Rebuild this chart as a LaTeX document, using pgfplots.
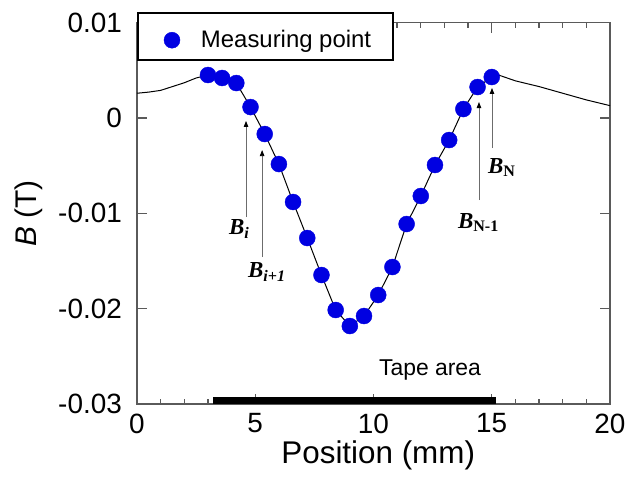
\documentclass[border=0pt]{standalone}
\usepackage{fontspec}
\setmainfont{Liberation Sans}
\newfontfamily\tnr{Liberation Serif}
\usepackage{pgfplots}
\pgfplotsset{compat=1.18}
\usetikzlibrary{arrows.meta}
\definecolor{mblue}{RGB}{0,0,225}
\definecolor{axgray}{RGB}{90,90,90}
\begin{document}
\begin{tikzpicture}
\begin{axis}[
 scale only axis, width=473bp, height=381.3bp,
 xmin=0, xmax=20, ymin=-0.03, ymax=0.01,
 scaled y ticks=false, scaled x ticks=false,
 axis line style={axgray, line width=1.3bp},
 xtick={0,5,10,15,20}, xticklabels={0,5,10,15,20},
 minor xtick={1,2,3,4,6,7,8,9,11,12,13,14,16,17,18,19},
 ytick={-0.03,-0.02,-0.01,0,0.01}, yticklabels={-0.03,-0.02,-0.01,0,0.01},
 major tick length=10bp, minor tick length=5bp,
 every tick/.style={axgray, line width=1.3bp},
 tick align=inside,
 xticklabel style={anchor=center, yshift=-19.5bp, inner sep=0pt, font=\fontsize{28}{30}\selectfont},
 yticklabel style={anchor=east, xshift=-15bp, inner sep=0pt, font=\fontsize{28}{30}\selectfont},
 xlabel={Position (mm)}, ylabel={\textit{B} (T)},
 xlabel style={at={(rel axis cs:0.51,-0.1338)}, anchor=center, font=\fontsize{31.5}{33}\selectfont},
 ylabel style={at={(rel axis cs:-0.2283,0.5)}, anchor=center, font=\fontsize{30}{32}\selectfont},
 legend image code/.code={\draw[#1] plot coordinates {(11bp,-0.5bp)}; \path (0bp,-0.5bp) (39bp,15.5bp);},
 legend style={at={(0,1)}, anchor=north west, yshift=11bp, draw=black, line width=2bp,
   inner xsep=22bp, inner ysep=10.5bp, fill=white,
   nodes={inner sep=0pt, font=\fontsize{24}{26}\selectfont}},
 legend cell align=left,
 clip=false,
]
\addplot[black, line width=1bp, forget plot] coordinates {
 (0,0.0026) (0.5,0.00272) (1,0.0029) (1.5,0.0033) (2,0.0037) (2.5,0.0042)
 (3.0,0.00451) (3.6,0.00420) (4.2,0.00367) (4.8,0.00115) (5.4,-0.00168)
 (6.0,-0.00483) (6.6,-0.00881) (7.2,-0.01259) (7.8,-0.01647) (8.4,-0.02014)
 (9.0,-0.02182) (9.6,-0.02077) (10.2,-0.01857) (10.8,-0.01563) (11.4,-0.01112)
 (12.0,-0.00818) (12.6,-0.00493) (13.2,-0.00231) (13.8,0.00094) (14.4,0.00325)
 (15.0,0.00430) (15.3,0.0045) (16,0.0039) (17,0.0033) (18,0.0026) (19,0.0019) (20,0.0013)
};
\addplot[fill=black, draw=none, forget plot] coordinates {
 (3.21,-0.03) (15.18,-0.03) (15.18,-0.02927) (3.21,-0.02927)} -- cycle;
\addplot[only marks, mark=*, mark size=8bp, color=mblue, mark options={draw=mblue, fill=mblue, line width=0.4bp}] coordinates {
 (3.0,0.00451) (3.6,0.00420) (4.2,0.00367) (4.8,0.00115) (5.4,-0.00168)
 (6.0,-0.00483) (6.6,-0.00881) (7.2,-0.01259) (7.8,-0.01647) (8.4,-0.02014)
 (9.0,-0.02182) (9.6,-0.02077) (10.2,-0.01857) (10.8,-0.01563) (11.4,-0.01112)
 (12.0,-0.00818) (12.6,-0.00493) (13.2,-0.00231) (13.8,0.00094) (14.4,0.00325)
 (15.0,0.00430)
};
\addlegendentry{Measuring point}
\draw[gray!85!black, line width=0.8bp, -{Triangle[length=6bp,width=4.5bp,black]}] (axis cs:4.61,-0.01039) -- (axis cs:4.61,-0.00031);
\draw[gray!85!black, line width=0.8bp, -{Triangle[length=6bp,width=4.5bp,black]}] (axis cs:5.29,-0.01458) -- (axis cs:5.29,-0.00336);
\draw[gray!85!black, line width=0.8bp, -{Triangle[length=6bp,width=4.5bp,black]}] (axis cs:14.46,-0.0086) -- (axis cs:14.46,0.00168);
\draw[gray!85!black, line width=0.8bp, -{Triangle[length=6bp,width=4.5bp,black]}] (axis cs:15.01,-0.00315) -- (axis cs:15.01,0.00315);
\node[anchor=base west, inner sep=0pt, font=\tnr\fontsize{23}{25}\selectfont\bfseries] at (axis cs:3.89,-0.01227) {\textit{B}\textsubscript{\textit{i}}};
\node[anchor=base west, inner sep=0pt, font=\tnr\fontsize{23}{25}\selectfont\bfseries] at (axis cs:4.69,-0.01678) {\textit{B}\textsubscript{\textit{i+1}}};
\node[anchor=base west, inner sep=0pt, font=\tnr\fontsize{23}{25}\selectfont\bfseries] at (axis cs:13.57,-0.01154) {\textit{B}\textsubscript{N-1}};
\node[anchor=base west, inner sep=0pt, font=\tnr\fontsize{23}{25}\selectfont\bfseries] at (axis cs:14.84,-0.00577) {\textit{B}\textsubscript{N}};
\node[anchor=center, inner sep=0pt, font=\fontsize{23}{25}\selectfont] at (axis cs:12.39,-0.02643) {Tape area};
\coordinate (bl) at (rel axis cs:0,0);
\coordinate (tr) at (rel axis cs:1,1);
\end{axis}
\pgfresetboundingbox
\path[use as bounding box] ([xshift=-137bp,yshift=-76bp]bl) rectangle ([xshift=20bp,yshift=22.7bp]tr);
\end{tikzpicture}
\end{document}
